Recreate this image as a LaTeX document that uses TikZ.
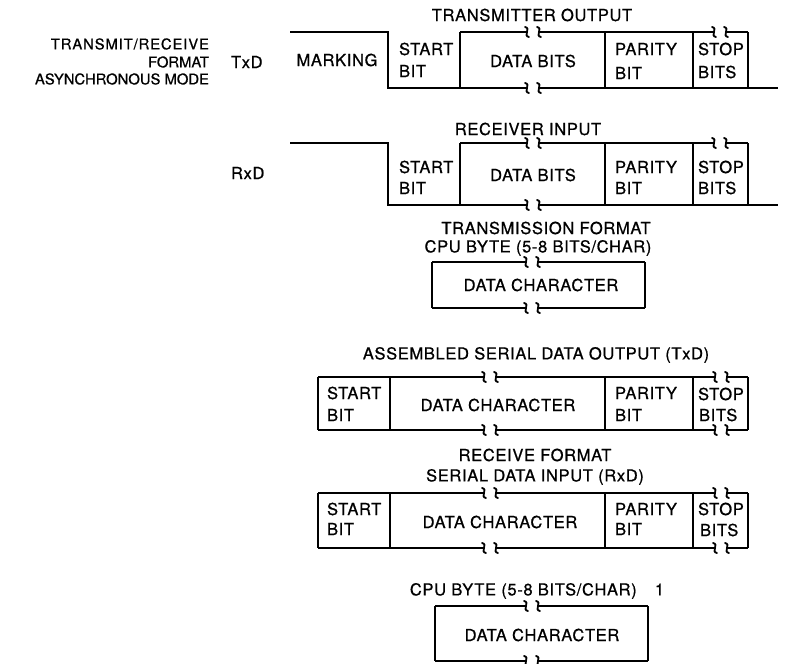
\documentclass[tikz,border=0pt]{standalone}
\usepackage{fontspec}
\setmainfont[LetterSpace=4,FakeBold=0.8]{TeX Gyre Heros}
\newfontfamily\lblfont[FakeBold=0.8]{TeX Gyre Heros}
\begin{document}
\begin{tikzpicture}[x=1pt,y=-1pt,line width=2.1pt,line join=miter,
  txt/.style={inner sep=0pt,font=\fontsize{16.5}{18}\selectfont},
  ltxt/.style={txt,anchor=west},
  lbl/.style={inner sep=0pt,anchor=east,font=\lblfont\fontsize{14.8}{16}\selectfont},
  squig/.pic={\draw[line width=1.8pt,line cap=round] (-2,-5) .. controls (4.5,-3.8) and (-4.5,3.8) .. (2,5);}]
\useasboundingbox (0,0) rectangle (788,664);
\newcommand\brokenline[4]{%
  \draw (#1,#3) -- ({#4-6},#3);
  \pic at ({#4-6},#3) {squig};
  \pic at ({#4+6},#3) {squig};
  \draw ({#4+6},#3) -- (#2,#3);}

% left labels
\node[lbl] (l1) at (210,44) {\addfontfeature{LetterSpace=6}TRANSMIT/RECEIVE};
\node[lbl] (l2) at (210,62) {FORMAT};
\node[lbl] (l3) at (210,79) {ASYNCHRONOUS MODE};
\node[ltxt] (txd) at (230,62) {TxD};
\node[ltxt] (rxd) at (230,173) {RxD};

% ---- row 1 : TxD waveform
\node[txt] (t1) at (532,15) {TRANSMITTER OUTPUT};
\draw (290,32) -- (388,32) -- (388,88) -- (460,88) -- (460,32);
\brokenline{460}{748}{88}{533}
\brokenline{460}{608}{32}{533}
\brokenline{605}{748}{32}{720}
\draw (748,32) -- (748,88) -- (778,88);
\draw (605,32) -- (605,88);
\draw (693,32) -- (693,88);
\node[txt] (mk) at (337,60) {MARKING};
\node[ltxt] (s1a) at (398,49) {START};
\node[ltxt] (s1b) at (398,71) {BIT};
\node[txt] (d1) at (533,61) {DATA BITS};
\node[ltxt] (p1a) at (614,49) {PARITY};
\node[ltxt] (p1b) at (614,73) {BIT};
\node[ltxt] (o1a) at (697,49) {STOP};
\node[ltxt] (o1b) at (697,72) {BITS};

% ---- row 2 : RxD waveform
\node[txt] (t2) at (528,129) {RECEIVER INPUT};
\draw (290,143) -- (388,143) -- (388,205) -- (460,205) -- (460,143);
\brokenline{460}{748}{205}{533}
\brokenline{460}{608}{143}{533}
\brokenline{605}{748}{143}{720}
\draw (748,143) -- (748,205) -- (778,205);
\draw (605,143) -- (605,205);
\draw (693,143) -- (693,205);
\node[ltxt] (s2a) at (398,167) {START};
\node[ltxt] (s2b) at (398,188) {BIT};
\node[txt] (d2) at (533,175) {DATA BITS};
\node[ltxt] (p2a) at (614,167) {PARITY};
\node[ltxt] (p2b) at (614,188) {BIT};
\node[ltxt] (o2a) at (697,167) {STOP};
\node[ltxt] (o2b) at (697,188) {BITS};

% ---- row 3 : CPU byte
\node[txt] (t3a) at (546,228) {TRANSMISSION FORMAT};
\node[txt] (t3b) at (538,248) {CPU BYTE (5-8 BITS/CHAR)};
\brokenline{432}{645}{262}{532}
\brokenline{432}{645}{308}{532}
\draw (432,262) -- (432,308);
\draw (645,262) -- (645,308);
\node[txt] (d3) at (541,285) {DATA CHARACTER};

% ---- row 4 : assembled serial output
\node[txt] (t4) at (536,355) {ASSEMBLED SERIAL DATA OUTPUT (TxD)};
\brokenline{318}{608}{377}{490}
\brokenline{318}{608}{430}{490}
\brokenline{605}{748}{377}{721}
\brokenline{605}{748}{430}{721}
\draw (318,377) -- (318,430);
\draw (390,377) -- (390,430);
\draw (605,377) -- (605,430);
\draw (693,377) -- (693,430);
\draw (748,377) -- (748,430);
\node[ltxt] (s4a) at (326,393) {START};
\node[ltxt] (s4b) at (326,415) {BIT};
\node[txt] (d4) at (498,405) {DATA CHARACTER};
\node[ltxt] (p4a) at (614,393) {PARITY};
\node[ltxt] (p4b) at (614,415) {BIT};
\node[ltxt] (o4a) at (697,394) {STOP};
\node[ltxt] (o4b) at (698,415) {BITS};

% ---- row 5 : receive format
\node[txt] (t5a) at (535,455) {RECEIVE FORMAT};
\node[txt] (t5b) at (535,477) {SERIAL DATA INPUT (RxD)};
\brokenline{318}{608}{493}{490}
\brokenline{318}{608}{548}{490}
\brokenline{605}{748}{493}{721}
\brokenline{605}{748}{548}{721}
\draw (318,493) -- (318,548);
\draw (390,493) -- (390,548);
\draw (605,493) -- (605,548);
\draw (693,493) -- (693,548);
\draw (748,493) -- (748,548);
\node[ltxt] (s5a) at (326,509) {START};
\node[ltxt] (s5b) at (326,529) {BIT};
\node[txt] (d5) at (500,522) {DATA CHARACTER};
\node[ltxt] (p5a) at (614,509) {PARITY};
\node[ltxt] (p5b) at (614,529) {BIT};
\node[ltxt] (o5a) at (697,509) {STOP};
\node[ltxt] (o5b) at (699,530) {BITS};

% ---- row 6 : CPU byte
\node[txt] (t6) at (537,591) {CPU BYTE (5-8 BITS/CHAR)\hspace{1.1em}1};
\brokenline{435}{648}{606}{532}
\brokenline{435}{648}{661}{532}
\draw (435,606) -- (435,661);
\draw (648,606) -- (648,661);
\node[txt] (d6) at (542,635) {DATA CHARACTER};
\end{tikzpicture}
\end{document}
